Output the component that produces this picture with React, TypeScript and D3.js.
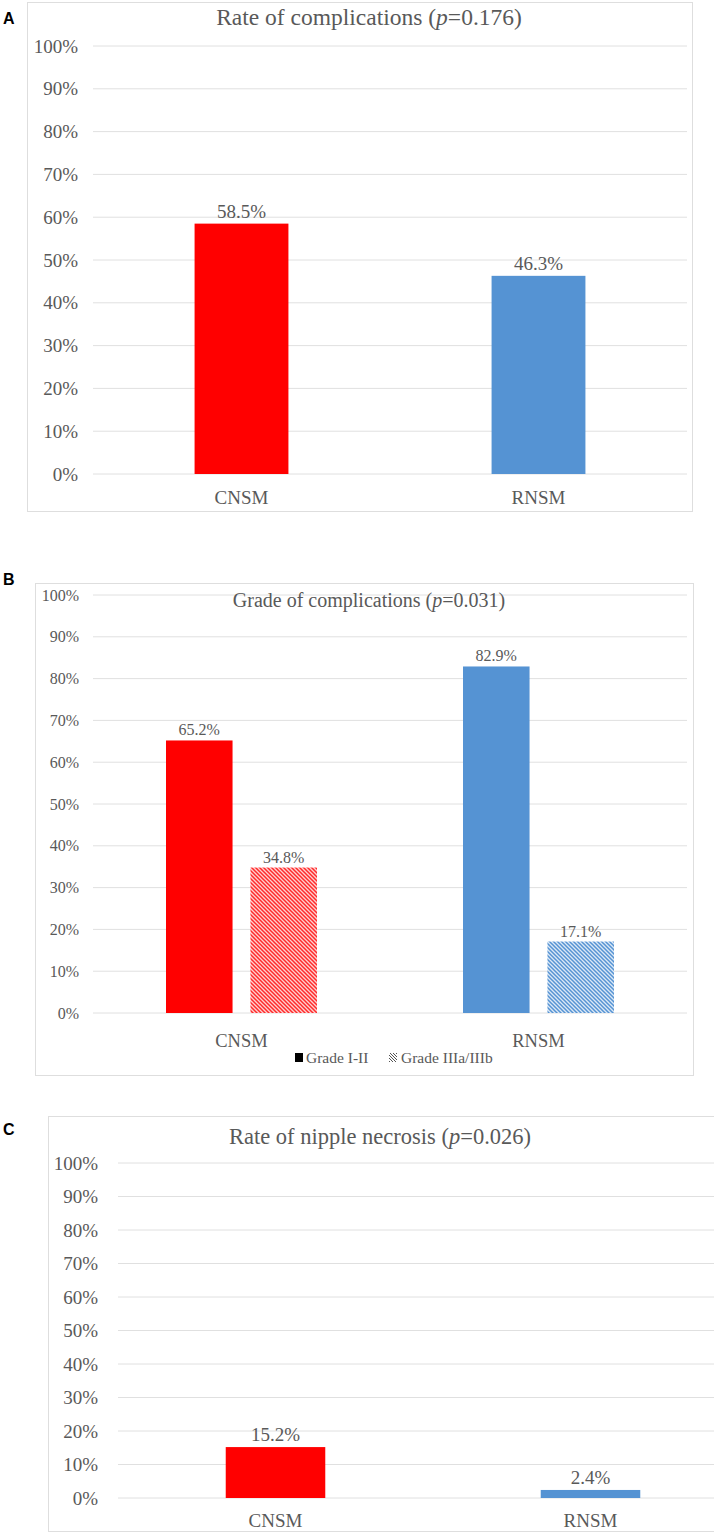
import React from "react";
import * as d3 from "d3";

const categories = ["CNSM", "RNSM"];
const rateValues = [58.5, 46.3];
const gradeSeries = ["Grade I-II", "Grade IIIa/IIIb"];
const gradeLow = [65.2, 82.9];
const gradeHigh = [34.8, 17.1];
const necrosisValues = [15.2, 2.4];
const barColors = ["#ff0000", "#5593d3"];
const yTicks = [0, 10, 20, 30, 40, 50, 60, 70, 80, 90, 100];

const FONT = "'Liberation Serif', 'DejaVu Serif', serif";
const TXT = "#595959";
const GRID = "#e0e0e0";
const fmtPct = (v: number) => `${v}%`;

type SimpleProps = {
  title: string; p: string; values: number[];
  x0: number; x1: number; y0: number; y100: number; tickRight: number;
  titleX: number; titleY: number; titleSize: number; tickSize: number; labelSize: number; catSize: number; catY: number;
};

function SimplePanel(pr: SimpleProps) {
  const y = d3.scaleLinear().domain([0, 100]).range([pr.y0, pr.y100]);
  const x = d3.scaleBand<string>().domain(categories).range([pr.x0, pr.x1]).paddingInner(0.684).paddingOuter(0.342);
  return (
    <g>
      {yTicks.map((t) => (
        <g key={t}>
          <line x1={pr.x0} x2={pr.x1} y1={y(t)} y2={y(t)} stroke={GRID} strokeWidth={1} />
          <text x={pr.tickRight} y={y(t)} dy="0.35em" textAnchor="end" fontSize={pr.tickSize} fill={TXT} fontFamily={FONT}>{fmtPct(t)}</text>
        </g>
      ))}
      {categories.map((c, i) => (
        <g key={c}>
          <rect x={x(c)} y={y(pr.values[i])} width={x.bandwidth()} height={y(0) - y(pr.values[i])} fill={barColors[i]} />
          <text x={(x(c) as number) + x.bandwidth() / 2} y={y(pr.values[i]) - 6} textAnchor="middle" fontSize={pr.labelSize} fill={TXT} fontFamily={FONT}>{pr.values[i].toFixed(1)}%</text>
          <text x={(x(c) as number) + x.bandwidth() / 2} y={pr.catY} textAnchor="middle" fontSize={pr.catSize} fill={TXT} fontFamily={FONT}>{c}</text>
        </g>
      ))}
      <text x={pr.titleX} y={pr.titleY} textAnchor="middle" fontSize={pr.titleSize} fill={TXT} fontFamily={FONT}>
        {pr.title} (<tspan fontStyle="italic">p</tspan>={pr.p})
      </text>
    </g>
  );
}

function GradePanel() {
  const x0 = 93, x1 = 687, y0 = 1013, y100 = 595;
  const y = d3.scaleLinear().domain([0, 100]).range([y0, y100]);
  const xo = d3.scaleBand<string>().domain(categories).range([x0, x1]).paddingInner(0.4916).paddingOuter(0.2458);
  const xi = d3.scaleBand<string>().domain(gradeSeries).range([0, xo.bandwidth()]).paddingInner(0.212).paddingOuter(0);
  const series = [gradeLow, gradeHigh];
  return (
    <g>
      {yTicks.map((t) => (
        <g key={t}>
          <line x1={x0} x2={x1} y1={y(t)} y2={y(t)} stroke={GRID} strokeWidth={1} />
          <text x={79} y={y(t)} dy="0.35em" textAnchor="end" fontSize={16} fill={TXT} fontFamily={FONT}>{fmtPct(t)}</text>
        </g>
      ))}
      {categories.map((c, i) => (
        <g key={c}>
          {gradeSeries.map((s, j) => {
            const v = series[j][i];
            const bx = (xo(c) as number) + (xi(s) as number);
            const fill = j === 0 ? barColors[i] : `url(#hatch${i})`;
            return (
              <g key={s}>
                <rect x={bx} y={y(v)} width={xi.bandwidth()} height={y(0) - y(v)} fill={fill} />
                <text x={bx + xi.bandwidth() / 2} y={y(v) - 5} textAnchor="middle" fontSize={16} fill={TXT} fontFamily={FONT}>{v.toFixed(1)}%</text>
              </g>
            );
          })}
          <text x={(xo(c) as number) + xo.bandwidth() / 2} y={1047} textAnchor="middle" fontSize={18.5} fill={TXT} fontFamily={FONT}>{c}</text>
        </g>
      ))}
      <text x={369} y={607} textAnchor="middle" fontSize={20} fill={TXT} fontFamily={FONT}>
        Grade of complications (<tspan fontStyle="italic">p</tspan>=0.031)
      </text>
      <g>
        <rect x={295} y={1053} width={8} height={9} fill="#000" />
        <text x={306} y={1063} fontSize={15.5} fill={TXT} fontFamily={FONT}>{gradeSeries[0]}</text>
        <rect x={389} y={1053} width={8} height={9} fill="url(#hatchGray)" />
        <text x={401} y={1063} fontSize={15.5} fill={TXT} fontFamily={FONT}>{gradeSeries[1]}</text>
      </g>
    </g>
  );
}

export default function App() {
  return (
    <svg width={714} height={1536} style={{ position: "absolute", left: 0, top: 0, background: "#fff" }}>
      <defs>
        <pattern id="hatch0" patternUnits="userSpaceOnUse" width={4} height={4}>
          <rect width={4} height={4} fill="#ffd0d0" />
          <path d="M0,0 L4,4 M-1,3 L1,5 M3,-1 L5,1" stroke="#ff2a2a" strokeWidth={1.5} />
        </pattern>
        <pattern id="hatch1" patternUnits="userSpaceOnUse" width={4} height={4}>
          <rect width={4} height={4} fill="#dbe8f6" />
          <path d="M0,0 L4,4 M-1,3 L1,5 M3,-1 L5,1" stroke="#5593d3" strokeWidth={1.5} />
        </pattern>
        <pattern id="hatchGray" patternUnits="userSpaceOnUse" width={3} height={3}>
          <rect width={3} height={3} fill="#fff" />
          <path d="M0,0 L3,3 M-1,2 L1,4 M2,-1 L4,1" stroke="#555" strokeWidth={1} />
        </pattern>
      </defs>

      {/* Panel A */}
      <rect x={27.5} y={2.5} width={665} height={509} fill="none" stroke="#dedede" />
      <text x={3} y={24} fontSize={16} fontWeight="bold" fontFamily="'Liberation Sans', Arial, sans-serif" fill="#000">A</text>
      <SimplePanel title="Rate of complications" p="0.176" values={rateValues}
        x0={93} x1={687} y0={474} y100={46} tickRight={78}
        titleX={369} titleY={25} titleSize={23.5} tickSize={19} labelSize={19} catSize={19} catY={504} />

      {/* Panel B */}
      <rect x={35.5} y={583.5} width={658} height={492} fill="none" stroke="#dedede" />
      <text x={3} y={585} fontSize={16} fontWeight="bold" fontFamily="'Liberation Sans', Arial, sans-serif" fill="#000">B</text>
      <GradePanel />

      {/* Panel C */}
      <rect x={48.5} y={1116.5} width={700} height={415} fill="none" stroke="#dedede" />
      <text x={3} y={1135} fontSize={16} fontWeight="bold" fontFamily="'Liberation Sans', Arial, sans-serif" fill="#000">C</text>
      <SimplePanel title="Rate of nipple necrosis" p="0.026" values={necrosisValues}
        x0={118} x1={748} y0={1498} y100={1163} tickRight={98}
        titleX={380} titleY={1144} titleSize={22.5} tickSize={19} labelSize={19} catSize={19} catY={1527} />
    </svg>
  );
}
